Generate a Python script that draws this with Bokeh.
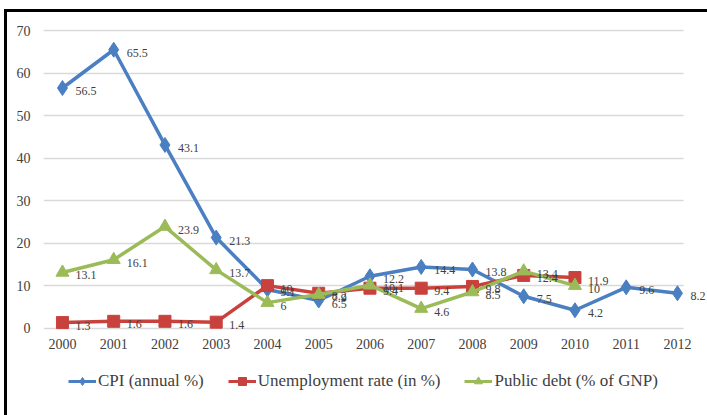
from bokeh.plotting import figure
from bokeh.layouts import column
from bokeh.models import (ColumnDataSource, LabelSet, Legend, LegendItem,
                          FixedTicker, Range1d, BoxAnnotation)
from bokeh.embed import file_html
from bokeh.resources import INLINE

years = [2000, 2001, 2002, 2003, 2004, 2005, 2006, 2007, 2008, 2009, 2010, 2011, 2012]
cpi = [56.5, 65.5, 43.1, 21.3, 9.1, 6.5, 12.2, 14.4, 13.8, 7.5, 4.2, 9.6, 8.2]
unemp_years = [2000, 2001, 2002, 2003, 2004, 2005, 2006, 2007, 2008, 2009, 2010]
unemp = [1.3, 1.6, 1.6, 1.4, 10, 8.2, 9.4, 9.4, 9.8, 12.4, 11.9]
debt_years = [2000, 2001, 2002, 2003, 2004, 2005, 2006, 2007, 2008, 2009, 2010]
debt = [13.1, 16.1, 23.9, 13.7, 6, 7.9, 10.1, 4.6, 8.5, 13.4, 10]
y_ticks = [0, 10, 20, 30, 40, 50, 60, 70]

BLUE = "#4A7FC1"
RED = "#C9413D"
GREEN = "#9BBB59"
FONT = "Liberation Serif"

# main chart
p = figure(frame_width=664, frame_height=306, output_backend="svg",
           toolbar_location=None,
           x_range=Range1d(1999.63, 2012.586), y_range=Range1d(-1.5, 70.5),
           min_border_left=36, min_border_right=0, min_border_top=16,
           min_border_bottom=28)
p.outline_line_color = None
p.background_fill_color = "white"
p.border_fill_color = "white"

p.xgrid.grid_line_color = None
p.ygrid.grid_line_color = "#D9D9D9"
p.ygrid.grid_line_width = 1.5
# plot area ends shortly after the last category; blank out the grid beyond it
p.add_layout(BoxAnnotation(left=2012.12, fill_color="white", fill_alpha=1,
                           line_color=None, level="underlay"))

p.xaxis.ticker = FixedTicker(ticks=years)
p.yaxis.ticker = FixedTicker(ticks=y_ticks)
for ax in (p.xaxis[0], p.yaxis[0]):
    ax.axis_line_color = None
    ax.major_tick_line_color = None
    ax.minor_tick_line_color = None
    ax.major_label_text_font = FONT
    ax.major_label_text_font_size = "14px"
    ax.major_label_text_color = "#404040"
p.xaxis.major_label_standoff = -2
p.yaxis.major_label_standoff = 7

# legend strip
p2 = figure(frame_width=700, frame_height=53, output_backend="svg",
            toolbar_location=None, x_axis_type=None, y_axis_type=None,
            x_range=Range1d(0, 1), y_range=Range1d(0, 1),
            min_border=0, min_border_left=0, min_border_right=0,
            min_border_top=0, min_border_bottom=0)
p2.outline_line_color = None
p2.grid.visible = False
p2.background_fill_color = "white"
p2.border_fill_color = "white"

series = [
    (years, cpi, BLUE, "diamond", 15, "CPI (annual %)"),
    (unemp_years, unemp, RED, "square", 12, "Unemployment rate (in %)"),
    (debt_years, debt, GREEN, "triangle", 13, "Public debt (% of GNP)"),
]
items = []
for xs, ys, color, marker, size, name in series:
    src = ColumnDataSource(dict(x=xs, y=ys, t=[f"{v:g}" for v in ys]))
    p.line("x", "y", source=src, line_color=color, line_width=3.5)
    p.scatter("x", "y", source=src, marker=marker, size=size,
              fill_color=color, line_color=color)
    labels = LabelSet(x="x", y="y", text="t", source=src, x_offset=13, y_offset=-3,
                      text_font=FONT, text_font_size="12px", text_color="#404040",
                      text_align="left", text_baseline="middle")
    p.add_layout(labels)
    # legend-only copies (their data lie outside this strip's ranges)
    ln = p2.line("x", "y", source=src, line_color=color, line_width=3)
    sc = p2.scatter("x", "y", source=src, marker=marker, size=8,
                    fill_color=color, line_color=color)
    items.append(LegendItem(label=name, renderers=[ln, sc]))

legend = Legend(items=items, orientation="horizontal", location=(61, 24),
                label_text_font=FONT, label_text_font_size="17px",
                label_text_color="#404040", glyph_width=28, label_standoff=2,
                spacing=24, border_line_color=None, background_fill_alpha=0,
                margin=0, padding=0)
p2.add_layout(legend)

layout = column(p, p2, spacing=0,
                styles={"margin-left": "4px", "margin-top": "9px",
                        "border-left": "3px solid #000",
                        "border-top": "3px solid #000"})

open("out.html", "w").write(file_html(layout, INLINE))
